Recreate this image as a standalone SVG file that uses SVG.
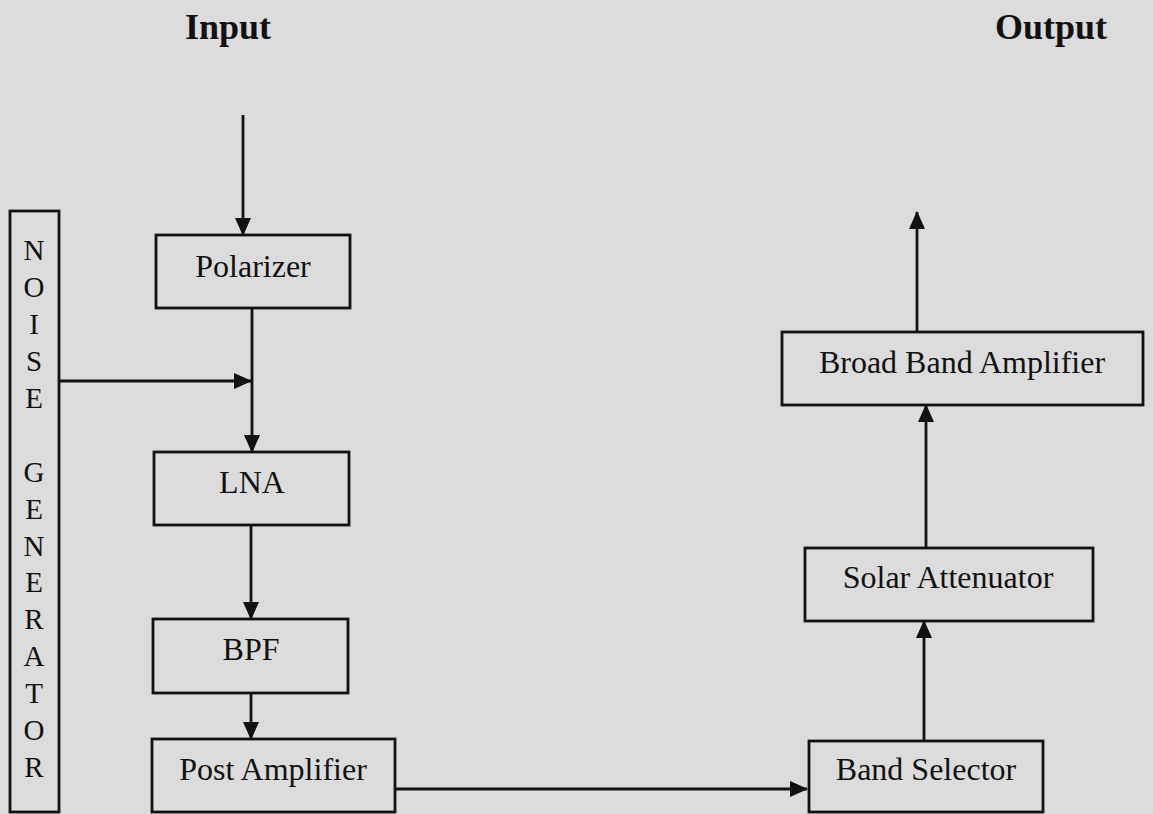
<svg xmlns="http://www.w3.org/2000/svg" width="1153" height="814" viewBox="0 0 1153 814">
<style>
.bg{fill:#dcdcdc}
.box{fill:none;stroke:#111;stroke-width:2.8}
.t{font-family:"Liberation Serif","Times New Roman",serif;font-size:32px;fill:#111;text-anchor:middle}
.h{font-family:"Liberation Serif","Times New Roman",serif;font-size:36px;font-weight:bold;fill:#111;text-anchor:middle}
.v{font-family:"Liberation Serif","Times New Roman",serif;font-size:29px;fill:#111;text-anchor:middle}
.c{fill:none;stroke:#111;stroke-width:2.8}
</style>
<defs>
<marker id="arr" viewBox="0 0 18 16" refX="17" refY="8" markerWidth="18" markerHeight="16" markerUnits="userSpaceOnUse" orient="auto">
<path d="M0,0 L18,8 L0,16 Z" fill="#111"/>
</marker>
</defs>
<rect class="bg" x="0" y="0" width="1153" height="814"/>
<text class="h" x="228" y="39">Input</text>
<text class="h" x="1051" y="39">Output</text>
<g id="noise">
<rect class="box" x="10" y="211" width="49" height="601"/>
<text class="v" x="34" y="260">N</text>
<text class="v" x="34" y="297">O</text>
<text class="v" x="34" y="334">I</text>
<text class="v" x="34" y="371">S</text>
<text class="v" x="34" y="408">E</text>
<text class="v" x="34" y="482">G</text>
<text class="v" x="34" y="519">E</text>
<text class="v" x="34" y="556">N</text>
<text class="v" x="34" y="592">E</text>
<text class="v" x="34" y="629">R</text>
<text class="v" x="34" y="666">A</text>
<text class="v" x="34" y="703">T</text>
<text class="v" x="34" y="740">O</text>
<text class="v" x="34" y="777">R</text>
</g>
<g id="polarizer">
<rect class="box" x="156" y="235" width="194" height="73"/>
<text class="t" x="253" y="277">Polarizer</text>
</g>
<g id="lna">
<rect class="box" x="154" y="452" width="195" height="73"/>
<text class="t" x="252" y="493">LNA</text>
</g>
<g id="bpf">
<rect class="box" x="153" y="619" width="195" height="74"/>
<text class="t" x="251" y="660">BPF</text>
</g>
<g id="post">
<rect class="box" x="152" y="739" width="243" height="73"/>
<text class="t" x="273" y="780">Post Amplifier</text>
</g>
<g id="bandsel">
<rect class="box" x="809" y="741" width="234" height="71"/>
<text class="t" x="926" y="780">Band Selector</text>
</g>
<g id="solar">
<rect class="box" x="805" y="548" width="288" height="73"/>
<text class="t" x="948" y="588">Solar Attenuator</text>
</g>
<g id="broadband">
<rect class="box" x="782" y="332" width="361" height="73"/>
<text class="t" x="962" y="373">Broad Band Amplifier</text>
</g>
<g id="connectors">
<line class="c" x1="243" y1="115" x2="243" y2="235" marker-end="url(#arr)"/>
<line class="c" x1="252" y1="308" x2="252" y2="452" marker-end="url(#arr)"/>
<line class="c" x1="59" y1="381" x2="251" y2="381" marker-end="url(#arr)"/>
<line class="c" x1="251" y1="525" x2="251" y2="619" marker-end="url(#arr)"/>
<line class="c" x1="251" y1="693" x2="251" y2="739" marker-end="url(#arr)"/>
<line class="c" x1="395" y1="789" x2="807" y2="789" marker-end="url(#arr)"/>
<line class="c" x1="924" y1="741" x2="924" y2="621" marker-end="url(#arr)"/>
<line class="c" x1="926" y1="548" x2="926" y2="405" marker-end="url(#arr)"/>
<line class="c" x1="917" y1="332" x2="917" y2="212" marker-end="url(#arr)"/>
</g>
</svg>
